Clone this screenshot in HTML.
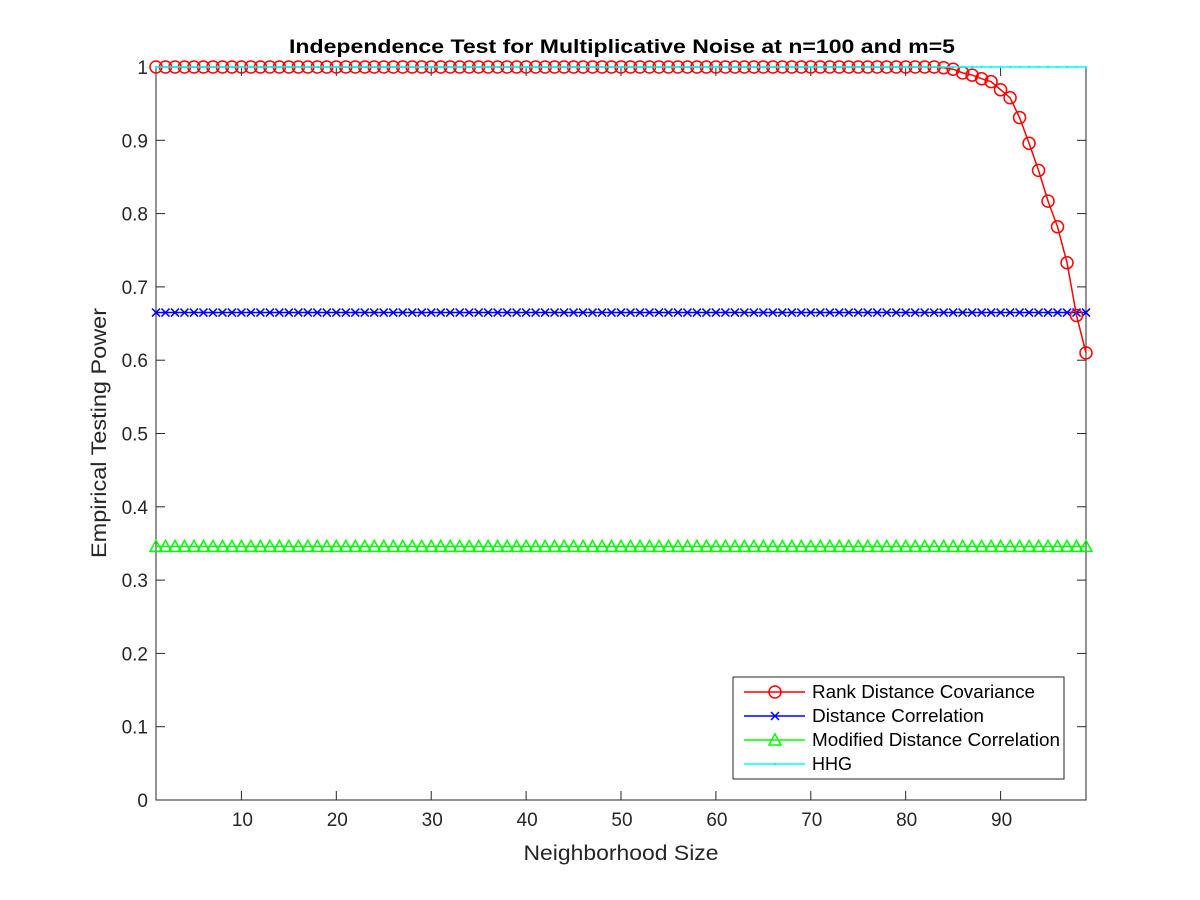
<!DOCTYPE html>
<html><head><meta charset="utf-8"><style>
html,body{margin:0;padding:0;background:#fff;}
svg{display:block;font-family:"Liberation Sans",Arial,sans-serif;}
</style></head><body>
<svg id="chart" width="1200" height="900" viewBox="0 0 1200 900"></svg>
<script>
const xTicks=[10,20,30,40,50,60,70,80,90];
const yTicks=[0,0.1,0.2,0.3,0.4,0.5,0.6,0.7,0.8,0.9,1];
const yTickLabels=["0","0.1","0.2","0.3","0.4","0.5","0.6","0.7","0.8","0.9","1"];
const redTail=[1.0,1.0,0.999,0.997,0.992,0.989,0.984,0.980,0.969,0.958,0.931,0.896,0.859,0.817,0.782,0.733,0.661,0.610];
const blueValue=0.665;
const greenValue=0.346;
const cyanValue=1.0;
const xMin=1,xMax=99;
const L=156,R=1086,T=67,B=800;
const NS="http://www.w3.org/2000/svg";
const svg=document.getElementById('chart');
function X(v){return L+(v-xMin)/(xMax-xMin)*(R-L);}
function Y(v){return B-v*(B-T);}
function el(tag,attrs,parent){const e=document.createElementNS(NS,tag);for(const k in attrs)e.setAttribute(k,attrs[k]);(parent||svg).appendChild(e);return e;}
const xs=[];for(let i=xMin;i<=xMax;i++)xs.push(i);
const red=xs.map(x=>{const idx=x-(xMax-redTail.length+1);return idx>=0?redTail[idx]:1.0;});
const blue=xs.map(()=>blueValue);
const green=xs.map(()=>greenValue);
const cyan=xs.map(()=>cyanValue);

const axes=el('g',{});


el('rect',{x:L,y:T,width:R-L,height:B-T,fill:'#fff',stroke:'none'},axes);
xTicks.forEach(t=>{
  el('line',{x1:X(t),x2:X(t),y1:B,y2:B-9,stroke:'#262626','stroke-width':1},axes);
  el('line',{x1:X(t),x2:X(t),y1:T,y2:T+9,stroke:'#262626','stroke-width':1},axes);
  const tx=el('text',{x:X(t)+1,y:B+26,'text-anchor':'middle','font-size':19,fill:'#262626'},axes);
  tx.textContent=t;
  
  
});
yTicks.forEach((t,i)=>{
  el('line',{x1:L,x2:L+9,y1:Y(t),y2:Y(t),stroke:'#262626','stroke-width':1},axes);
  el('line',{x1:R,x2:R-9,y1:Y(t),y2:Y(t),stroke:'#262626','stroke-width':1},axes);
  const tx=el('text',{x:L-8,y:Y(t)+7,'text-anchor':'end','font-size':19,fill:'#262626'},axes);
  tx.textContent=yTickLabels[i];
  
  
});

function series(vals,color,marker,name){
  const g=el('g',{});
  
  
  el('polyline',{points:xs.map((x,i)=>X(x)+','+Y(vals[i])).join(' '),fill:'none',stroke:color,'stroke-width':1.5},g);
  xs.forEach((x,i)=>drawMarker(g,X(x),Y(vals[i]),color,marker));
}
function drawMarker(g,cx,cy,color,marker){
  if(marker==='o')el('circle',{cx:cx,cy:cy,r:6,fill:'none',stroke:color,'stroke-width':1.5},g);
  else if(marker==='x'){el('path',{d:`M${cx-4},${cy-4}L${cx+4},${cy+4}M${cx-4},${cy+4}L${cx+4},${cy-4}`,stroke:color,'stroke-width':1.5},g);}
  else if(marker==='^')el('path',{d:`M${cx},${cy-6}L${cx+6},${cy+5}L${cx-6},${cy+5}Z`,fill:'none',stroke:color,'stroke-width':1.5},g);
  else if(marker==='.')el('circle',{cx:cx,cy:cy,r:1.2,fill:color},g);
}
series(green,'#00ff00','^','series-modified-distance-correlation');
series(blue,'#0000ff','x','series-distance-correlation');
series(red,'#ff0000','o','series-rank-distance-covariance');
series(cyan,'#00ffff','.','series-hhg');

el('path',{d:`M${L},${T}V${B}H${R}V${T}`,fill:'none',stroke:'#262626','stroke-width':1},axes);

const title=el('text',{x:622,y:53,'text-anchor':'middle','font-size':19,'font-weight':'bold',fill:'#000',textLength:666,lengthAdjust:'spacingAndGlyphs'});
title.textContent='Independence Test for Multiplicative Noise at n=100 and m=5';


const xl=el('text',{x:621,y:860,'text-anchor':'middle','font-size':21,fill:'#262626',textLength:195,lengthAdjust:'spacingAndGlyphs'});
xl.textContent='Neighborhood Size';


const yl=el('text',{x:0,y:0,'text-anchor':'middle','font-size':21,fill:'#262626',transform:'translate(106,433) rotate(-90)',textLength:250,lengthAdjust:'spacingAndGlyphs'});
yl.textContent='Empirical Testing Power';



const lg=el('g',{});


el('rect',{x:733,y:677,width:331,height:102,fill:'#fff',stroke:'#262626','stroke-width':1},lg);
const entries=[['Rank Distance Covariance','#ff0000','o',223],['Distance Correlation','#0000ff','x',172],['Modified Distance Correlation','#00ff00','^',248],['HHG','#00ffff','.',40]];
entries.forEach((e,i)=>{
  const y=692+i*24;
  const eg=el('g',{},lg);
  
  
  el('line',{x1:744,x2:805,y1:y,y2:y,stroke:e[1],'stroke-width':1.5},eg);
  drawMarker(eg,775,y,e[1],e[2]);
  const t=el('text',{x:812,y:y+6,'font-size':18,fill:'#000',textLength:e[3],lengthAdjust:'spacingAndGlyphs'},eg);
  t.textContent=e[0];
});
</script>
</body></html>
